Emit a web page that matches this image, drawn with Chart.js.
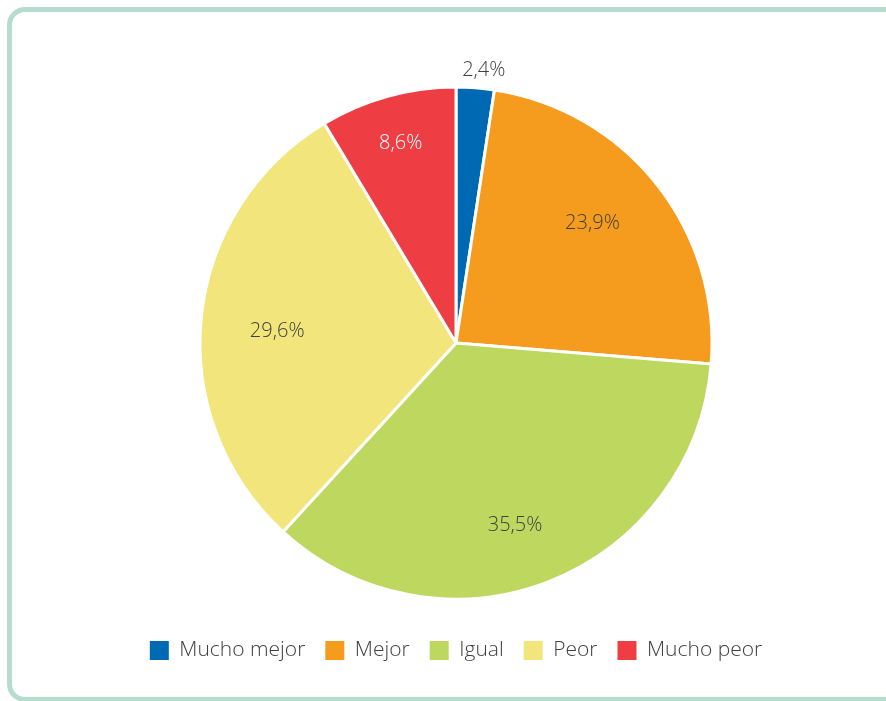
<!DOCTYPE html>
<html>
<head>
<meta charset="utf-8">
<script src="https://cdn.jsdelivr.net/npm/chart.js@4"></script>
<style>
  html, body { margin: 0; padding: 0; background: #fff; overflow: hidden; }
  #wrap { position: relative; width: 886px; height: 701px; }
  #frame {
    position: absolute; left: 7px; top: 7px; width: 920px; height: 695px;
    box-sizing: border-box; border: 5px solid #b5dccd; border-radius: 18px;
  }
  canvas { position: absolute; left: 0; top: 0; }
</style>
</head>
<body>
<div id="wrap">
  <div id="frame"></div>
  <canvas id="pieChart" width="886" height="701"></canvas>
</div>
<script>
const categorias = ['Mucho mejor', 'Mejor', 'Igual', 'Peor', 'Mucho peor'];
const porcentajes = [2.4, 23.9, 35.5, 29.6, 8.6];
const colores = ['#0069b4', '#f59c1e', '#bdd75f', '#f2e57b', '#ee3d43'];

// posicion de las etiquetas (fraccion del radio, giro en grados) y color del texto
const etiquetaRadio = [1.07, 0.71, 0.75, 0.70, 0.81];
const etiquetaGiro = [1.5, -3, 3.5, -2, 0];
const etiquetaColor = ['#404040', '#404040', '#404040', '#404040', '#ffffff'];

const fuente = "'Open Sans', 'Noto Sans', sans-serif";

const etiquetas = {
  id: 'etiquetas',
  afterDatasetsDraw(chart) {
    const ctx = chart.ctx;
    const meta = chart.getDatasetMeta(0);
    ctx.save();
    ctx.font = '300 20px ' + fuente;
    ctx.textAlign = 'center';
    ctx.textBaseline = 'middle';
    meta.data.forEach((arc, i) => {
      const p = arc.getProps(['x', 'y', 'startAngle', 'endAngle', 'outerRadius'], true);
      const a = (p.startAngle + p.endAngle) / 2 + etiquetaGiro[i] * Math.PI / 180;
      const r = p.outerRadius * etiquetaRadio[i];
      ctx.fillStyle = etiquetaColor[i];
      ctx.fillText(porcentajes[i].toFixed(1).replace('.', ',') + '%', p.x + Math.cos(a) * r, p.y + Math.sin(a) * r);
    });
    ctx.restore();
  }
};

const ctx = document.getElementById('pieChart').getContext('2d');
const pieChart = new Chart(ctx, {
  type: 'pie',
  data: {
    labels: categorias,
    datasets: [{
      data: porcentajes,
      backgroundColor: colores,
      borderColor: '#ffffff',
      borderWidth: 3,
      radius: 256
    }]
  },
  options: {
    responsive: false,
    animation: false,
    layout: { padding: { left: 26, right: 0, top: 66, bottom: 30 } },
    plugins: {
      tooltip: { enabled: false },
      legend: {
        position: 'bottom',
        labels: {
          boxWidth: 19,
          boxHeight: 19,
          padding: 20,
          color: '#404040',
          font: { family: fuente, size: 21, weight: '300' },
          generateLabels(chart) {
            const items = Chart.controllers.pie.overrides.plugins.legend.labels.generateLabels(chart);
            items.forEach(it => { it.lineWidth = 0; it.strokeStyle = 'transparent'; });
            return items;
          }
        }
      }
    }
  },
  plugins: [etiquetas]
});
</script>
</body>
</html>
